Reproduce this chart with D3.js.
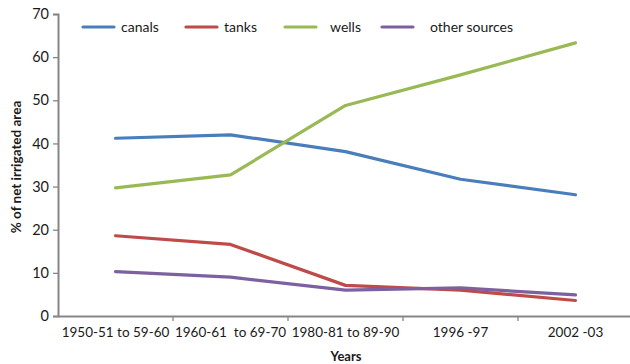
<!DOCTYPE html>
<html>
<head>
<meta charset="utf-8">
<script src="https://cdn.jsdelivr.net/npm/d3@7"></script>
<style>
  body { margin: 0; background: #fff; }
  svg text { font-family: Lato, "Open Sans", sans-serif; fill: #1a1a1a; }
</style>
</head>
<body>
<svg id="chart" width="630" height="364"></svg>
<script>
const categories = ["1950-51 to 59-60", "1960-61  to 69-70", "1980-81 to 89-90", "1996 -97", "2002 -03"];
const canals = [41.2, 42.0, 38.1, 31.7, 28.1];
const tanks = [18.6, 16.6, 7.1, 6.0, 3.6];
const wells = [29.7, 32.7, 48.8, 55.9, 63.3];
const otherSources = [10.3, 9.0, 6.0, 6.5, 4.9];
const yTicks = [0, 10, 20, 30, 40, 50, 60, 70];

const series = [
    { name: "canals", values: canals, color: "#4a7ebb" },
    { name: "tanks", values: tanks, color: "#be4b48" },
    { name: "wells", values: wells, color: "#98b954" },
    { name: "other sources", values: otherSources, color: "#7d60a0" }
];

const svg = d3.select("#chart");
const margin = { top: 14, right: -3, bottom: 48, left: 58 };
const width = 630;
const height = 364;

const xScale = d3.scaleBand()
    .domain(categories)
    .range([margin.left, width - margin.right]);

const yScale = d3.scaleLinear()
    .domain([0, 70])
    .range([height - margin.bottom, margin.top]);

// y axis
const yAxis = svg.append("g")
    .attr("transform", `translate(${margin.left},0)`)
    .call(d3.axisLeft(yScale).tickValues(yTicks).tickSize(5).tickPadding(4));
yAxis.select(".domain").attr("stroke", "#868686").attr("stroke-width", 2);
yAxis.selectAll(".tick line").attr("stroke", "#868686").attr("stroke-width", 1.3);
yAxis.selectAll(".tick text").attr("font-size", 14.5).style("font-family", "Lato, sans-serif");

// x axis
const xAxis = svg.append("g")
    .attr("transform", `translate(0,${height - margin.bottom})`)
    .call(d3.axisBottom(xScale).tickSize(0).tickPadding(11));
xAxis.select(".domain").attr("stroke", "#868686").attr("stroke-width", 2);
xAxis.selectAll(".tick text").attr("font-size", 13.5).style("font-family", "Lato, sans-serif").style("white-space", "pre");
// tick marks between categories
const bounds = categories.map(c => xScale(c)).concat([xScale.range()[1]]);
xAxis.selectAll(".sep")
    .data(bounds.slice(1, -1))
    .enter()
    .append("line")
    .attr("x1", d => d).attr("x2", d => d)
    .attr("y1", 0).attr("y2", 5)
    .attr("stroke", "#868686").attr("stroke-width", 1.3);

// axis titles
svg.append("text")
    .attr("x", 346).attr("y", 361)
    .attr("text-anchor", "middle")
    .attr("font-size", 13).attr("font-weight", "bold")
    .text("Years");

svg.append("text")
    .attr("transform", "translate(21,167) rotate(-90)")
    .attr("text-anchor", "middle")
    .attr("font-size", 13.5).attr("font-weight", "bold")
    .text("% of net irrigated area");

// lines
const line = d3.line()
    .x((d, i) => xScale(categories[i]) + xScale.bandwidth() / 2)
    .y(d => yScale(d));

svg.selectAll(".series")
    .data(series)
    .enter()
    .append("path")
    .attr("class", "series")
    .attr("d", d => line(d.values))
    .attr("fill", "none")
    .attr("stroke", d => d.color)
    .attr("stroke-width", 3.2)
    .attr("stroke-linejoin", "round")
    .attr("stroke-linecap", "round");

// legend
const legendX = [83, 186, 285, 382];
const legend = svg.selectAll(".legend")
    .data(series)
    .enter()
    .append("g")
    .attr("class", "legend")
    .attr("transform", (d, i) => `translate(${legendX[i]},27)`);
legend.append("line")
    .attr("x1", 0).attr("x2", 31)
    .attr("stroke", d => d.color)
    .attr("stroke-width", 3.2)
    .attr("stroke-linecap", "round");
legend.append("text")
    .attr("x", (d, i) => i === 3 ? 48 : (i === 2 ? 45 : 38))
    .attr("y", 5)
    .attr("font-size", 14)
    .text(d => d.name);
</script>
</body>
</html>
